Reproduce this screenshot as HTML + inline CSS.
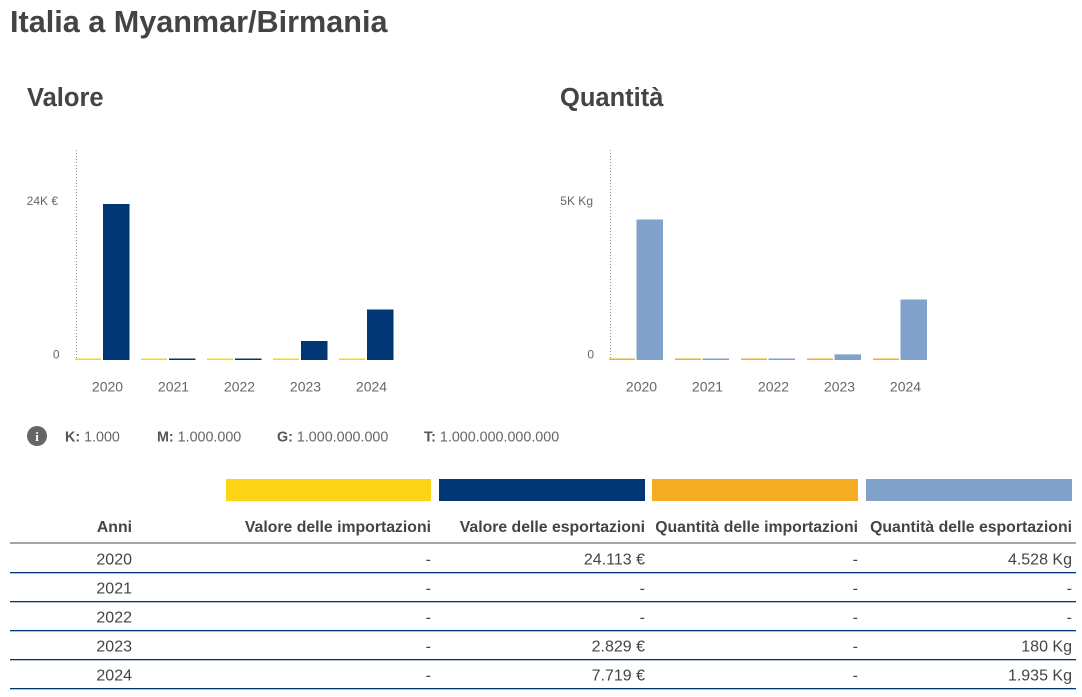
<!DOCTYPE html>
<html>
<head>
<meta charset="utf-8">
<style>
  html,body{margin:0;padding:0;background:#fff;}
  body{width:1082px;height:697px;overflow:hidden;}
  svg{display:block;font-family:"Liberation Sans",Arial,sans-serif;}
</style>
</head>
<body>
<svg width="1082" height="697" viewBox="0 0 1082 697" xmlns="http://www.w3.org/2000/svg">
  <!-- Titles -->
  <text x="10" y="32" font-size="30.6" font-weight="bold" fill="#444">Italia a Myanmar/Birmania</text>
  <text x="27" y="106" font-size="25.5" font-weight="bold" fill="#444">Valore</text>
  <text x="560" y="106" font-size="25.5" font-weight="bold" fill="#444">Quantità</text>

  <!-- Left chart -->
  <line x1="76.5" y1="150" x2="76.5" y2="360" stroke="#999" stroke-width="1" stroke-dasharray="1,2"/>
  <text x="58" y="205" font-size="12" fill="#666" text-anchor="end">24K €</text>
  <text x="59.5" y="358.5" font-size="12" fill="#666" text-anchor="end">0</text>
  <g fill="#fdd516">
    <rect x="75" y="358.5" width="26" height="1.5"/>
    <rect x="141" y="358.5" width="26" height="1.5"/>
    <rect x="207" y="358.5" width="26" height="1.5"/>
    <rect x="273" y="358.5" width="26" height="1.5"/>
    <rect x="339" y="358.5" width="26" height="1.5"/>
  </g>
  <g fill="#003673">
    <rect x="103" y="204" width="26.5" height="156"/>
    <rect x="169" y="358.5" width="26.5" height="1.5"/>
    <rect x="235" y="358.5" width="26.5" height="1.5"/>
    <rect x="301" y="341" width="26.5" height="19"/>
    <rect x="367" y="309.5" width="26.5" height="50.5"/>
  </g>
  <g font-size="14" fill="#666" text-anchor="middle">
    <text x="107.5" y="391.5">2020</text>
    <text x="173.5" y="391.5">2021</text>
    <text x="239.5" y="391.5">2022</text>
    <text x="305.5" y="391.5">2023</text>
    <text x="371.5" y="391.5">2024</text>
  </g>

  <!-- Right chart -->
  <line x1="610.5" y1="150" x2="610.5" y2="360" stroke="#999" stroke-width="1" stroke-dasharray="1,2"/>
  <text x="593" y="205" font-size="12" fill="#666" text-anchor="end">5K Kg</text>
  <text x="594" y="358.5" font-size="12" fill="#666" text-anchor="end">0</text>
  <g fill="#f5ae24">
    <rect x="609" y="358.5" width="26" height="1.5"/>
    <rect x="675" y="358.5" width="26" height="1.5"/>
    <rect x="741" y="358.5" width="26" height="1.5"/>
    <rect x="807" y="358.5" width="26" height="1.5"/>
    <rect x="873" y="358.5" width="26" height="1.5"/>
  </g>
  <g fill="#7fa1ca">
    <rect x="636.5" y="219.5" width="26.5" height="140.5"/>
    <rect x="702.5" y="358.5" width="26.5" height="1.5"/>
    <rect x="768.5" y="358.5" width="26.5" height="1.5"/>
    <rect x="834.5" y="354.4" width="26.5" height="5.6"/>
    <rect x="900.5" y="299.5" width="26.5" height="60.5"/>
  </g>
  <g font-size="14" fill="#666" text-anchor="middle">
    <text x="641.5" y="391.5">2020</text>
    <text x="707.5" y="391.5">2021</text>
    <text x="773.5" y="391.5">2022</text>
    <text x="839.5" y="391.5">2023</text>
    <text x="905.5" y="391.5">2024</text>
  </g>

  <!-- Info line -->
  <circle cx="37" cy="436" r="10" fill="#666"/>
  <text x="37" y="441" font-size="13" font-weight="bold" fill="#fff" text-anchor="middle" font-family="Liberation Serif, serif">i</text>
  <g font-size="14.3" fill="#666">
    <text x="65" y="441.5"><tspan font-weight="bold" fill="#555">K:</tspan> 1.000</text>
    <text x="157" y="441.5"><tspan font-weight="bold" fill="#555">M:</tspan> 1.000.000</text>
    <text x="277" y="441.5"><tspan font-weight="bold" fill="#555">G:</tspan> 1.000.000.000</text>
    <text x="424" y="441.5"><tspan font-weight="bold" fill="#555">T:</tspan> 1.000.000.000.000</text>
  </g>

  <!-- Color legend bars -->
  <rect x="226" y="479" width="205" height="22" fill="#fdd516"/>
  <rect x="439" y="479" width="206" height="22" fill="#003673"/>
  <rect x="652" y="479" width="206" height="22" fill="#f5ae24"/>
  <rect x="866" y="479" width="206" height="22" fill="#7fa1ca"/>

  <!-- Table header -->
  <g font-size="15.8" font-weight="bold" fill="#444" text-anchor="end">
    <text x="132" y="532">Anni</text>
    <text x="431" y="532">Valore delle importazioni</text>
    <text x="645" y="532">Valore delle esportazioni</text>
    <text x="858" y="532">Quantità delle importazioni</text>
    <text x="1072" y="532">Quantità delle esportazioni</text>
  </g>
  <rect x="10" y="542" width="1066" height="2" fill="#a5a5a5"/>

  <!-- Table rows -->
  <g font-size="16" fill="#444" text-anchor="end">
    <text x="132" y="564.5">2020</text>
    <text x="431" y="564.5">-</text>
    <text x="645" y="564.5">24.113 €</text>
    <text x="858" y="564.5">-</text>
    <text x="1072" y="564.5">4.528 Kg</text>

    <text x="132" y="593.5">2021</text>
    <text x="431" y="593.5">-</text>
    <text x="645" y="593.5">-</text>
    <text x="858" y="593.5">-</text>
    <text x="1072" y="593.5">-</text>

    <text x="132" y="622.5">2022</text>
    <text x="431" y="622.5">-</text>
    <text x="645" y="622.5">-</text>
    <text x="858" y="622.5">-</text>
    <text x="1072" y="622.5">-</text>

    <text x="132" y="651.5">2023</text>
    <text x="431" y="651.5">-</text>
    <text x="645" y="651.5">2.829 €</text>
    <text x="858" y="651.5">-</text>
    <text x="1072" y="651.5">180 Kg</text>

    <text x="132" y="680.5">2024</text>
    <text x="431" y="680.5">-</text>
    <text x="645" y="680.5">7.719 €</text>
    <text x="858" y="680.5">-</text>
    <text x="1072" y="680.5">1.935 Kg</text>
  </g>
  <g fill="#003673">
    <rect x="10" y="572" width="1066" height="1.3"/>
    <rect x="10" y="601" width="1066" height="1.3"/>
    <rect x="10" y="630" width="1066" height="1.3"/>
    <rect x="10" y="659" width="1066" height="1.3"/>
    <rect x="10" y="688" width="1066" height="1.3"/>
  </g>
</svg>
</body>
</html>
